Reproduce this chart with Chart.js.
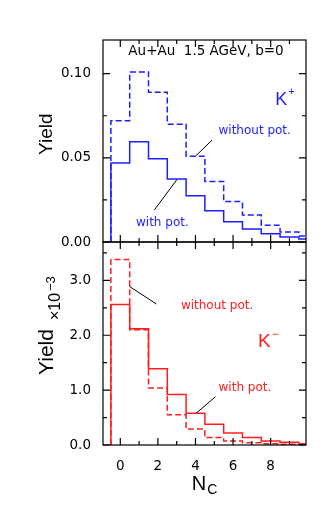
<!DOCTYPE html>
<html>
<head>
<meta charset="utf-8">
<script src="https://cdn.jsdelivr.net/npm/chart.js@4.4.1/dist/chart.umd.min.js"></script>
<style>
  body { margin: 0; background: #fff; width: 332px; height: 510px; overflow: hidden; position: relative; }
  canvas { position: absolute; left: 0; }
  #kplus { top: 0; }
  #kminus { top: 222px; }
</style>
</head>
<body>
<canvas id="kplus" width="332" height="262"></canvas>
<canvas id="kminus" width="332" height="288"></canvas>
<script>
// bin centres N_C, one value per bin
var nc = [0, 1, 2, 3, 4, 5, 6, 7, 8, 9, 10];
var kplusWithout = [0.072, 0.101, 0.089, 0.070, 0.051, 0.036, 0.024, 0.016, 0.010, 0.006, 0.0036];
var kplusWith = [0.047, 0.0595, 0.0495, 0.0375, 0.0275, 0.0185, 0.012, 0.0077, 0.0049, 0.003, 0.0018];
// K- values in units of 1e-3
var kminusWithout = [3.38, 2.10, 1.04, 0.55, 0.29, 0.135, 0.073, 0.043, 0.024, 0.012, 0.006];
var kminusWith = [2.56, 2.12, 1.39, 0.92, 0.58, 0.38, 0.22, 0.135, 0.073, 0.049, 0.024];

var xTicks = [0, 2, 4, 6, 8];
var xMinor = [1, 3, 5, 7, 9];
var yTicksTop = [0, 0.05, 0.10];
var yMinorTop = [0.025, 0.075];
var yTicksBottom = [0, 1, 2, 3];
var yMinorBottom = [0.5, 1.5, 2.5, 3.5];

var blue = 'rgb(30,30,255)';
var red = 'rgb(255,30,30)';

// turn bin values into the outline of a histogram
function histo(vals) {
  var pts = [{x: nc[0] - 0.5, y: 0}];
  for (var i = 0; i < nc.length; i++) {
    pts.push({x: nc[i] - 0.5, y: vals[i]});
    pts.push({x: nc[i] + 0.5, y: vals[i]});
  }
  return pts;
}

var framePlugin = {
  id: 'frame',
  afterDatasetsDraw: function(chart, args, opts) {
    var ctx = chart.ctx, a = chart.chartArea;
    var xs = chart.scales.x, ys = chart.scales.y;
    ctx.save();
    ctx.strokeStyle = '#000';
    ctx.lineWidth = 1.2;
    ctx.strokeRect(a.left, a.top, a.right - a.left, a.bottom - a.top);
    function ytick(v, len) {
      var p = ys.getPixelForValue(v);
      ctx.beginPath();
      ctx.moveTo(a.left, p); ctx.lineTo(a.left + len, p);
      ctx.moveTo(a.right, p); ctx.lineTo(a.right - len, p);
      ctx.stroke();
    }
    function xtick(v, len) {
      var p = xs.getPixelForValue(v);
      ctx.beginPath();
      ctx.moveTo(p, a.bottom); ctx.lineTo(p, a.bottom - len);
      ctx.moveTo(p, a.top); ctx.lineTo(p, a.top + len);
      ctx.stroke();
    }
    opts.yMajor.forEach(function(v) { ytick(v, 7); });
    opts.yMinor.forEach(function(v) { ytick(v, 4); });
    xTicks.forEach(function(v) { xtick(v, 7); });
    xMinor.forEach(function(v) { xtick(v, 4); });

    // leader lines
    ctx.lineWidth = 1;
    opts.leaders.forEach(function(l) {
      ctx.beginPath();
      ctx.moveTo(xs.getPixelForValue(l[0]), ys.getPixelForValue(l[1]));
      ctx.lineTo(xs.getPixelForValue(l[2]), ys.getPixelForValue(l[3]));
      ctx.stroke();
    });

    // labels inside the frame
    opts.notes.forEach(function(n) {
      var px = xs.getPixelForValue(n.x), py = ys.getPixelForValue(n.y);
      ctx.font = n.font;
      ctx.fillStyle = n.color;
      ctx.textAlign = n.align || 'left';
      ctx.textBaseline = 'alphabetic';
      ctx.fillText(n.text, px, py);
      if (n.sup) {
        var w = ctx.measureText(n.text).width;
        ctx.font = n.supFont;
        ctx.textAlign = 'left';
        ctx.fillText(n.sup, px + w + 1, py - n.supRise);
      }
    });

    // axis titles
    if (opts.ytitle) opts.ytitle(ctx, a);
    if (opts.xtitle) opts.xtitle(ctx, a);
    ctx.restore();
  }
};

var tickFont = {family: 'DejaVu Sans', size: 13.5};

var topChart = new Chart(document.getElementById('kplus'), {
  type: 'line',
  data: {
    datasets: [
      {data: histo(kplusWithout), borderColor: blue, borderWidth: 1.5, borderDash: [6, 3], pointRadius: 0, fill: false},
      {data: histo(kplusWith), borderColor: blue, borderWidth: 1.5, pointRadius: 0, fill: false}
    ]
  },
  options: {
    responsive: false,
    animation: false,
    devicePixelRatio: 1,
    layout: {padding: {left: 0, right: 26, top: 40, bottom: 20}},
    plugins: {
      legend: {display: false},
      tooltip: {enabled: false},
      frame: {
        yMajor: yTicksTop,
        yMinor: yMinorTop,
        leaders: [[4.0, 0.051, 4.88, 0.0605], [3.02, 0.0372, 1.81, 0.019]],
        notes: [
          {text: 'Au+Au  1.5 AGeV, b=0', x: 4.56, y: 0.1113, align: 'center', color: '#000', font: '13.5px "DejaVu Sans"'},
          {text: 'K', x: 8.25, y: 0.0812, color: blue, font: '18px "Liberation Sans"', sup: '+', supFont: '11px "Liberation Sans"', supRise: 10},
          {text: 'without pot.', x: 7.15, y: 0.064, align: 'center', color: blue, font: '12px "DejaVu Sans"'},
          {text: 'with pot.', x: 2.24, y: 0.0095, align: 'center', color: blue, font: '12px "DejaVu Sans"'}
        ],
        ytitle: function(ctx, a) {
          ctx.save();
          ctx.translate(52, 155);
          ctx.rotate(-Math.PI / 2);
          ctx.fillStyle = '#000';
          ctx.textAlign = 'left';
          ctx.font = '19px "Liberation Sans"';
          ctx.fillText('Yield', 0, 0);
          ctx.restore();
        }
      }
    },
    scales: {
      x: {type: 'linear', min: -0.92, max: 9.88, display: false},
      y: {
        min: 0, max: 0.12,
        grid: {display: false},
        border: {display: false},
        afterFit: function(s) { s.width = 103; },
        afterBuildTicks: function(s) { s.ticks = yTicksTop.map(function(v) { return {value: v}; }); },
        ticks: {padding: 4, color: '#000', font: tickFont, callback: function(v) { return v.toFixed(2); }}
      }
    }
  },
  plugins: [framePlugin]
});

var bottomChart = new Chart(document.getElementById('kminus'), {
  type: 'line',
  data: {
    datasets: [
      {data: histo(kminusWithout), borderColor: red, borderWidth: 1.5, borderDash: [6, 3], pointRadius: 0, fill: false},
      {data: histo(kminusWith), borderColor: red, borderWidth: 1.5, pointRadius: 0, fill: false}
    ]
  },
  options: {
    responsive: false,
    animation: false,
    devicePixelRatio: 1,
    layout: {padding: {left: 0, right: 26, top: 20, bottom: 0}},
    plugins: {
      legend: {display: false},
      tooltip: {enabled: false},
      frame: {
        yMajor: yTicksBottom,
        yMinor: yMinorBottom,
        leaders: [[0.49, 2.89, 1.92, 2.57], [4.04, 0.58, 5.06, 0.88]],
        notes: [
          {text: 'without pot.', x: 5.15, y: 2.48, align: 'center', color: red, font: '12px "DejaVu Sans"'},
          {text: 'K', x: 7.33, y: 1.78, color: red, font: '19px "Liberation Sans"', sup: '\u2212', supFont: '12px "Liberation Sans"', supRise: 9},
          {text: 'with pot.', x: 6.63, y: 0.985, align: 'center', color: red, font: '12px "DejaVu Sans"'}
        ],
        ytitle: function(ctx, a) {
          ctx.save();
          ctx.translate(53, 153);
          ctx.rotate(-Math.PI / 2);
          ctx.fillStyle = '#000';
          ctx.textAlign = 'left';
          ctx.font = '21px "Liberation Sans"';
          ctx.fillText('Yield', 0, 0);
          ctx.font = '16px "Liberation Sans"';
          ctx.fillText('\u00d710', 55, 7);
          ctx.font = '13px "Liberation Sans"';
          ctx.fillText('\u22123', 84, 2);
          ctx.restore();
        },
        xtitle: function(ctx, a) {
          var cx = (a.left + a.right) / 2;
          ctx.fillStyle = '#000';
          ctx.textAlign = 'left';
          ctx.font = '20px "Liberation Sans"';
          var wN = ctx.measureText('N').width;
          ctx.font = '14px "Liberation Sans"';
          var wC = ctx.measureText('C').width;
          var x0 = cx - (wN + wC + 1) / 2;
          ctx.font = '20px "Liberation Sans"';
          ctx.fillText('N', x0, a.bottom + 45);
          ctx.font = '14px "Liberation Sans"';
          ctx.fillText('C', x0 + wN + 1, a.bottom + 49);
        }
      }
    },
    scales: {
      x: {
        type: 'linear', min: -0.92, max: 9.88,
        grid: {display: false},
        border: {display: false},
        afterFit: function(s) { s.height = 65; },
        afterBuildTicks: function(s) { s.ticks = xTicks.map(function(v) { return {value: v}; }); },
        ticks: {padding: 5, color: '#000', font: tickFont, maxRotation: 0, autoSkip: false}
      },
      y: {
        min: 0, max: 3.7,
        grid: {display: false},
        border: {display: false},
        afterFit: function(s) { s.width = 103; },
        afterBuildTicks: function(s) { s.ticks = yTicksBottom.map(function(v) { return {value: v}; }); },
        ticks: {padding: 4, color: '#000', font: tickFont, callback: function(v) { return v.toFixed(1); }}
      }
    }
  },
  plugins: [framePlugin]
});
</script>
</body>
</html>
